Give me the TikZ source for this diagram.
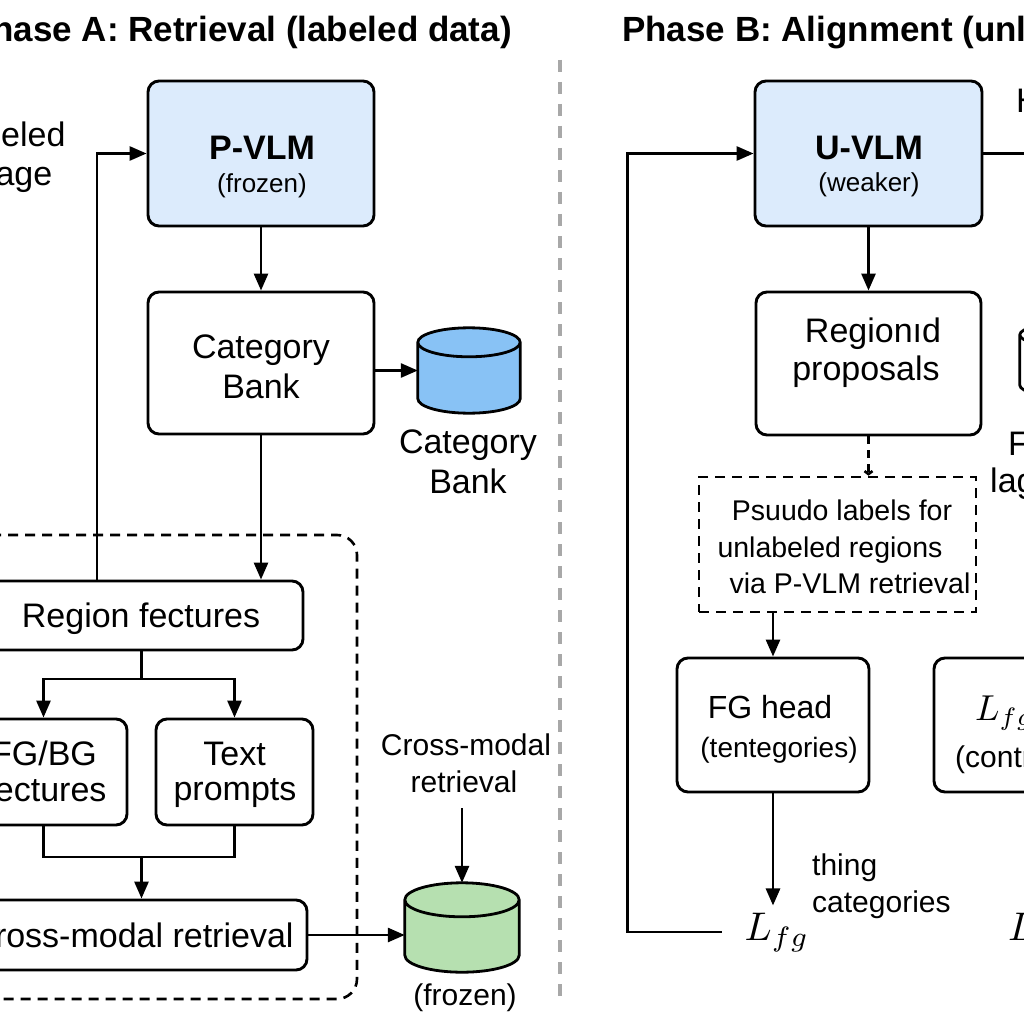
\documentclass[tikz,border=0pt]{standalone}
\usepackage{fontspec}
\usepackage{graphicx}
\setmainfont{Liberation Sans}
\usetikzlibrary{arrows.meta,calc}
\definecolor{vlmblue}{HTML}{DCEBFC}
\definecolor{cylblue}{HTML}{88C2F5}
\definecolor{cylgreen}{HTML}{B6E0B0}
\definecolor{divgray}{HTML}{A8A8A8}
\newcommand{\fsz}[1]{\fontsize{#1}{#1}\selectfont}
\newcommand{\drawcyl}[3]{%
  \filldraw[line width=2.8pt,fill=#3]
    let \p1=(#1.north west), \p2=(#1.south east) in
    (\x1,\y1-#2) -- (\x1,\y2+#2)
    arc[start angle=180,end angle=360,x radius={(\x2-\x1)/2},y radius=#2]
    -- (\x2,\y1-#2)
    arc[start angle=0,end angle=180,x radius={(\x2-\x1)/2},y radius=#2]
    -- cycle
    (\x1/2+\x2/2,\y1-#2) ellipse[x radius={(\x2-\x1)/2},y radius=#2];}
\begin{document}
\begin{tikzpicture}[x=1pt,y=-1pt,
  box/.style={draw,line width=2.9pt,rounded corners=11pt,fill=white,inner sep=0pt},
  vlmbox/.style={box,fill=vlmblue},
  dbox/.style={draw,line width=2.6pt,dash pattern=on 10pt off 7pt,inner sep=0pt},
  hid/.style={inner sep=0pt,draw=none},
  txt/.style={inner sep=0pt,anchor=base,font=\fsz{34}},
  txtw/.style={inner sep=0pt,anchor=base west,font=\fsz{34}},
  arr/.style={line width=2.8pt,-{Triangle[length=17pt,width=14pt]}},
  ln/.style={line width=2.8pt},
  ]
\useasboundingbox (0,0) rectangle (1024,1024);
\clip (0,0) rectangle (1024,1024);
\fill[white] (0,0) rectangle (1024,1024);

% ---------- titles ----------
\node[inner sep=0pt,anchor=base east,font=\bfseries\fsz{35}] (titleA) at (512,42) {Phase A: Retrieval (labeled data)};
\node[inner sep=0pt,anchor=base west,font=\bfseries\fsz{35}] (titleB) at (622,42) {Phase B: Alignment (unlabeled data)};

% ---------- divider ----------
\coordinate (divtop) at (560,60);
\coordinate (divbot) at (560,1000);
\draw[divgray,line width=3.5pt,dash pattern=on 12pt off 10pt] (divtop) -- (divbot);

% ---------- Phase A ----------
\node[txt] (lab1) at (5,147) {Labeled};
\node[txt] (lab2) at (6,186) {image};

\node[vlmbox,minimum width=226pt,minimum height=145pt] (pvlm) at (261,153.5) {};
\node[txt,font=\bfseries\fsz{34}] (pv1) at (262,160) {P-VLM};
\node[txt,font=\fsz{26}] (pv2) at (262,193) {(frozen)};

\node[box,minimum width=226pt,minimum height=142pt] (catbox) at (261,363) {};
\node[txt] (cb1) at (261,358) {Category};
\node[txt] (cb2) at (261,398) {Bank};

\node[hid,minimum width=102pt,minimum height=85pt] (cyl1) at (469,370.5) {};
\drawcyl{cyl1}{14.5pt}{cylblue}
\node[txt] (cyl1a) at (468,453) {Category};
\node[txt] (cyl1b) at (468,493) {Bank};

\draw[dbox,rounded corners=20pt] (-20,535) rectangle (357,999);

\node[box,minimum width=323pt,minimum height=69pt] (region) at (141.5,615.5) {};
\node[txt] (rgt) at (141,627) {Region fectures};

\node[box,minimum width=167pt,minimum height=106pt] (fgbg) at (43.5,772) {};
\node[txt] (fg1) at (44,765) {FG/BG};
\node[txt] (fg2) at (46,801) {fectures};

\node[box,minimum width=157pt,minimum height=106pt] (tprompt) at (234.5,772) {};
\node[txt] (tp1) at (234.5,765) {Text};
\node[txt] (tp2) at (235,800) {prompts};

\node[box,minimum width=331pt,minimum height=70pt] (cross) at (141.5,935) {};
\node[txt] (crt) at (132,947) {Cross-modal retrieval};

\node[hid,minimum width=114pt,minimum height=89pt] (cyl2) at (462,927.5) {};
\drawcyl{cyl2}{17pt}{cylgreen}
\node[txt,font=\fsz{30}] (cm1) at (466,755) {Cross-modal};
\node[txt,font=\fsz{30}] (cm2) at (464,792) {retrieval};
\coordinate (cmtail) at (462,808);
\node[txt,font=\fsz{30}] (frz) at (465,1005) {(frozen)};

% connectors A
\draw[arr] ([xshift=-44.5pt]region.north) |- (pvlm.west);
\draw[arr] (pvlm.south) -- (catbox.north);
\draw[arr] (catbox.east |- cyl1.west) -- (cyl1.west);
\draw[arr] (catbox.south) -- (catbox.south |- region.north);
\coordinate (splitA) at (141.5,679);
\draw[ln] (region.south) -- (splitA);
\draw[arr] (splitA) -| (fgbg.north);
\draw[arr] (splitA) -| (tprompt.north);
\coordinate (mergeA) at (141.5,857);
\draw[ln] (fgbg.south) |- (mergeA) -| (tprompt.south);
\draw[arr] (mergeA) -- (cross.north);
\draw[arr] (cross.east) -- (cross.east -| cyl2.west);
\draw[arr] (cmtail) -- (cyl2.north);

% ---------- Phase B ----------
\node[vlmbox,minimum width=227pt,minimum height=145pt] (uvlm) at (868.5,153.5) {};
\node[txt,font=\bfseries\fsz{34}] (uv1) at (869,160) {U-VLM};
\node[txt,font=\fsz{26}] (uv2) at (869,192) {(weaker)};
\node[txtw] (hlab) at (1016,113) {H};
\coordinate (uvout) at (1040,153.5);
\draw[ln] (uvlm.east) -- (uvout);

\node[box,minimum width=225pt,minimum height=143pt] (prop) at (868.5,363.5) {};
\node[txt] (pr1) at (873,342) {Regionıd};
\node[txt] (pr2) at (866,380) {proposals};

\node[hid,minimum width=100pt,minimum height=74pt] (cyl3) at (1070,360) {};
\drawcyl{cyl3}{12pt}{white}
\node[txtw] (fl1) at (1008,455) {F};
\node[txtw] (fl2) at (990,492) {lag};

\node[dbox,minimum width=277pt,minimum height=135pt] (pseudo) at (837.5,544.5) {};
\node[txt,font=\fsz{28.5}] (ps1) at (842,520) {Psuudo labels for};
\node[txt,font=\fsz{28.5}] (ps2) at (830,557) {unlabeled regions};
\node[txt,font=\fsz{28.5}] (ps3) at (850,593) {via P-VLM retrieval};

\node[box,minimum width=192pt,minimum height=134pt] (fghead) at (773,725) {};
\node[txt,font=\fsz{32}] (fh1) at (770,718) {FG head};
\node[txt,font=\fsz{28}] (fh2) at (779,757) {(tentegories)};

\node[box,minimum width=196pt,minimum height=134pt] (rbox) at (1032,725) {};
\node[inner sep=0pt,anchor=base west] (rb1) at (975,720) {\scalebox{3.6}{$L_{fg}$}};
\node[txtw,font=\fsz{30}] (rb2) at (955,767) {(contrastive)};

\node[inner xsep=0pt,inner ysep=7pt,anchor=base] (lfg) at (777,940) {\scalebox{4}{$L_{fg}$}};
\node[txtw,font=\fsz{30}] (th1) at (812,875) {thing};
\node[txtw,font=\fsz{30}] (th2) at (812,912) {categories};
\node[inner sep=0pt,anchor=base west] (lright) at (1008,940) {\scalebox{4}{$L$}};

% connectors B
\draw[arr] ([xshift=-23pt]lfg.west) -| ([xshift=-126pt]uvlm.west) -- (uvlm.west);
\draw[arr] (uvlm.south) -- (prop.north);
\draw[line width=2.6pt,dash pattern=on 8pt off 6pt,-{Straight Barb[length=3pt,width=8pt]}] (prop.south) -- (prop.south |- pseudo.north);
\draw[arr] (pseudo.south -| fghead.north) -- (fghead.north);
\draw[arr] (fghead.south) -- (fghead.south |- lfg.north);
\end{tikzpicture}
\end{document}
